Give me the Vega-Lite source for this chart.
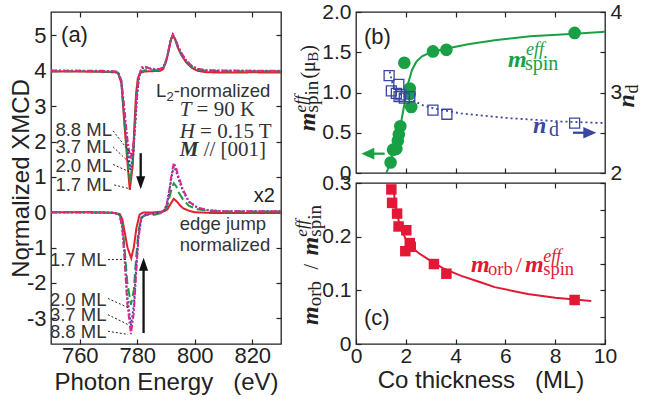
{
"$schema":"https://vega.github.io/schema/vega-lite/v6.json",
"background":"white",
"padding":{"left":8,"top":0,"right":0,"bottom":0},
"spacing":75,
"bounds":"flush",
"config":{
 "view":{"stroke":"#222","strokeWidth":1.3},
 "axis":{"domain":false,"grid":false,"ticks":true,"tickSize":-5,"tickColor":"#222","tickWidth":1.2,"labelFont":"Liberation Sans","labelFontSize":21,"labelColor":"#222","titleFont":"Liberation Sans","titleFontSize":24,"titleFontWeight":"normal","titleColor":"#222","labelFlush":false,"labelOverlap":false},
 "axisX":{"labelPadding":6.5},
 "axisY":{"labelPadding":10}
},
"hconcat":[
{"width":230,"height":332,
 "resolve":{"axis":{"x":"independent","y":"independent"}},
 "layer":[
  {"layer":[
   {"data":{"values":[
{"x":750,"y":3.98,"ml":"1.7","g":"t"},{"x":760,"y":3.98,"ml":"1.7","g":"t"},{"x":768,"y":3.97,"ml":"1.7","g":"t"},{"x":772,"y":3.96,"ml":"1.7","g":"t"},{"x":773.3,"y":3.94,"ml":"1.7","g":"t"},{"x":774.5,"y":3.65,"ml":"1.7","g":"t"},{"x":775.6,"y":2.42,"ml":"1.7","g":"t"},{"x":776.5,"y":1.49,"ml":"1.7","g":"t"},{"x":777.4,"y":0.63,"ml":"1.7","g":"t"},{"x":778.4,"y":1.29,"ml":"1.7","g":"t"},{"x":779,"y":2.42,"ml":"1.7","g":"t"},{"x":779.6,"y":3.37,"ml":"1.7","g":"t"},{"x":780.2,"y":3.79,"ml":"1.7","g":"t"},{"x":781,"y":3.94,"ml":"1.7","g":"t"},{"x":782.5,"y":3.98,"ml":"1.7","g":"t"},{"x":785,"y":3.99,"ml":"1.7","g":"t"},{"x":788,"y":4.0,"ml":"1.7","g":"t"},{"x":789,"y":4.05,"ml":"1.7","g":"t"},{"x":790,"y":4.25,"ml":"1.7","g":"t"},{"x":790.7,"y":4.48,"ml":"1.7","g":"t"},{"x":791.6,"y":4.85,"ml":"1.7","g":"t"},{"x":792.4,"y":5.02,"ml":"1.7","g":"t"},{"x":793.3,"y":4.86,"ml":"1.7","g":"t"},{"x":794.2,"y":4.64,"ml":"1.7","g":"t"},{"x":795.3,"y":4.45,"ml":"1.7","g":"t"},{"x":797,"y":4.24,"ml":"1.7","g":"t"},{"x":799,"y":4.08,"ml":"1.7","g":"t"},{"x":801,"y":4.0,"ml":"1.7","g":"t"},{"x":804,"y":3.96,"ml":"1.7","g":"t"},{"x":810,"y":3.95,"ml":"1.7","g":"t"},{"x":815,"y":3.95,"ml":"1.7","g":"t"},{"x":820,"y":3.96,"ml":"1.7","g":"t"},{"x":825,"y":3.95,"ml":"1.7","g":"t"},{"x":830,"y":3.95,"ml":"1.7","g":"t"},
{"x":750,"y":3.99,"ml":"2.0","g":"t"},{"x":760,"y":3.99,"ml":"2.0","g":"t"},{"x":768,"y":3.98,"ml":"2.0","g":"t"},{"x":772,"y":3.97,"ml":"2.0","g":"t"},{"x":773.3,"y":3.95,"ml":"2.0","g":"t"},{"x":774.5,"y":3.67,"ml":"2.0","g":"t"},{"x":775.6,"y":2.55,"ml":"2.0","g":"t"},{"x":776.5,"y":1.68,"ml":"2.0","g":"t"},{"x":777.5,"y":0.85,"ml":"2.0","g":"t"},{"x":778.5,"y":1.5,"ml":"2.0","g":"t"},{"x":779.1,"y":2.4,"ml":"2.0","g":"t"},{"x":779.7,"y":3.25,"ml":"2.0","g":"t"},{"x":780.3,"y":3.72,"ml":"2.0","g":"t"},{"x":781.1,"y":3.95,"ml":"2.0","g":"t"},{"x":782.5,"y":4.02,"ml":"2.0","g":"t"},{"x":785,"y":4.02,"ml":"2.0","g":"t"},{"x":788,"y":4.02,"ml":"2.0","g":"t"},{"x":789,"y":4.07,"ml":"2.0","g":"t"},{"x":790,"y":4.27,"ml":"2.0","g":"t"},{"x":790.7,"y":4.5,"ml":"2.0","g":"t"},{"x":791.6,"y":4.86,"ml":"2.0","g":"t"},{"x":792.4,"y":5.02,"ml":"2.0","g":"t"},{"x":793.3,"y":4.87,"ml":"2.0","g":"t"},{"x":794.2,"y":4.66,"ml":"2.0","g":"t"},{"x":795.3,"y":4.48,"ml":"2.0","g":"t"},{"x":797,"y":4.27,"ml":"2.0","g":"t"},{"x":799,"y":4.11,"ml":"2.0","g":"t"},{"x":801,"y":4.04,"ml":"2.0","g":"t"},{"x":804,"y":4.0,"ml":"2.0","g":"t"},{"x":810,"y":3.99,"ml":"2.0","g":"t"},{"x":820,"y":3.99,"ml":"2.0","g":"t"},{"x":830,"y":3.99,"ml":"2.0","g":"t"},
{"x":750,"y":4.0,"ml":"3.7","g":"t"},{"x":760,"y":4.0,"ml":"3.7","g":"t"},{"x":768,"y":3.99,"ml":"3.7","g":"t"},{"x":772,"y":3.98,"ml":"3.7","g":"t"},{"x":773.3,"y":3.96,"ml":"3.7","g":"t"},{"x":774.5,"y":3.7,"ml":"3.7","g":"t"},{"x":775.6,"y":2.72,"ml":"3.7","g":"t"},{"x":776.5,"y":1.92,"ml":"3.7","g":"t"},{"x":777.6,"y":1.2,"ml":"3.7","g":"t"},{"x":778.6,"y":1.62,"ml":"3.7","g":"t"},{"x":779.3,"y":2.45,"ml":"3.7","g":"t"},{"x":779.9,"y":3.25,"ml":"3.7","g":"t"},{"x":780.6,"y":3.8,"ml":"3.7","g":"t"},{"x":781.5,"y":4.06,"ml":"3.7","g":"t"},{"x":782.5,"y":4.1,"ml":"3.7","g":"t"},{"x":784,"y":4.07,"ml":"3.7","g":"t"},{"x":786,"y":4.04,"ml":"3.7","g":"t"},{"x":788,"y":4.05,"ml":"3.7","g":"t"},{"x":789,"y":4.09,"ml":"3.7","g":"t"},{"x":790,"y":4.28,"ml":"3.7","g":"t"},{"x":790.7,"y":4.5,"ml":"3.7","g":"t"},{"x":791.6,"y":4.86,"ml":"3.7","g":"t"},{"x":792.4,"y":5.02,"ml":"3.7","g":"t"},{"x":793.3,"y":4.88,"ml":"3.7","g":"t"},{"x":794.2,"y":4.68,"ml":"3.7","g":"t"},{"x":795.3,"y":4.5,"ml":"3.7","g":"t"},{"x":797,"y":4.29,"ml":"3.7","g":"t"},{"x":799,"y":4.13,"ml":"3.7","g":"t"},{"x":801,"y":4.05,"ml":"3.7","g":"t"},{"x":804,"y":4.01,"ml":"3.7","g":"t"},{"x":810,"y":4.0,"ml":"3.7","g":"t"},{"x":820,"y":4.0,"ml":"3.7","g":"t"},{"x":830,"y":3.99,"ml":"3.7","g":"t"},
{"x":750,"y":4.01,"ml":"8.8","g":"t"},{"x":760,"y":4.0,"ml":"8.8","g":"t"},{"x":768,"y":4.0,"ml":"8.8","g":"t"},{"x":772,"y":3.99,"ml":"8.8","g":"t"},{"x":773.3,"y":3.97,"ml":"8.8","g":"t"},{"x":774.5,"y":3.73,"ml":"8.8","g":"t"},{"x":775.6,"y":2.88,"ml":"8.8","g":"t"},{"x":776.5,"y":2.12,"ml":"8.8","g":"t"},{"x":777.6,"y":1.5,"ml":"8.8","g":"t"},{"x":778.6,"y":1.88,"ml":"8.8","g":"t"},{"x":779.3,"y":2.58,"ml":"8.8","g":"t"},{"x":779.9,"y":3.32,"ml":"8.8","g":"t"},{"x":780.6,"y":3.86,"ml":"8.8","g":"t"},{"x":781.5,"y":4.1,"ml":"8.8","g":"t"},{"x":782.5,"y":4.12,"ml":"8.8","g":"t"},{"x":784,"y":4.08,"ml":"8.8","g":"t"},{"x":786,"y":4.05,"ml":"8.8","g":"t"},{"x":788,"y":4.06,"ml":"8.8","g":"t"},{"x":789,"y":4.1,"ml":"8.8","g":"t"},{"x":790,"y":4.29,"ml":"8.8","g":"t"},{"x":790.7,"y":4.5,"ml":"8.8","g":"t"},{"x":791.6,"y":4.86,"ml":"8.8","g":"t"},{"x":792.4,"y":5.02,"ml":"8.8","g":"t"},{"x":793.3,"y":4.89,"ml":"8.8","g":"t"},{"x":794.2,"y":4.7,"ml":"8.8","g":"t"},{"x":795.3,"y":4.52,"ml":"8.8","g":"t"},{"x":797,"y":4.3,"ml":"8.8","g":"t"},{"x":799,"y":4.14,"ml":"8.8","g":"t"},{"x":801,"y":4.06,"ml":"8.8","g":"t"},{"x":804,"y":4.02,"ml":"8.8","g":"t"},{"x":810,"y":4.01,"ml":"8.8","g":"t"},{"x":820,"y":4.0,"ml":"8.8","g":"t"},{"x":830,"y":4.0,"ml":"8.8","g":"t"},
{"x":750,"y":0.0,"ml":"1.7","g":"b"},{"x":760,"y":0.0,"ml":"1.7","g":"b"},{"x":768,"y":-0.01,"ml":"1.7","g":"b"},{"x":772,"y":-0.02,"ml":"1.7","g":"b"},{"x":773.9,"y":-0.05,"ml":"1.7","g":"b"},{"x":774.8,"y":-0.2,"ml":"1.7","g":"b"},{"x":775.6,"y":-0.55,"ml":"1.7","g":"b"},{"x":776.6,"y":-1.0,"ml":"1.7","g":"b"},{"x":777.9,"y":-1.3,"ml":"1.7","g":"b"},{"x":778.8,"y":-1.0,"ml":"1.7","g":"b"},{"x":779.7,"y":-0.45,"ml":"1.7","g":"b"},{"x":780.8,"y":-0.07,"ml":"1.7","g":"b"},{"x":782,"y":-0.01,"ml":"1.7","g":"b"},{"x":785,"y":-0.01,"ml":"1.7","g":"b"},{"x":788,"y":0.01,"ml":"1.7","g":"b"},{"x":789.5,"y":0.03,"ml":"1.7","g":"b"},{"x":790.5,"y":0.08,"ml":"1.7","g":"b"},{"x":791.7,"y":0.25,"ml":"1.7","g":"b"},{"x":792.7,"y":0.38,"ml":"1.7","g":"b"},{"x":793.8,"y":0.3,"ml":"1.7","g":"b"},{"x":795,"y":0.18,"ml":"1.7","g":"b"},{"x":796,"y":0.11,"ml":"1.7","g":"b"},{"x":798,"y":0.04,"ml":"1.7","g":"b"},{"x":800,"y":0.0,"ml":"1.7","g":"b"},{"x":805,"y":-0.02,"ml":"1.7","g":"b"},{"x":815,"y":-0.02,"ml":"1.7","g":"b"},{"x":830,"y":-0.02,"ml":"1.7","g":"b"},
{"x":750,"y":0.0,"ml":"2.0","g":"b"},{"x":760,"y":0.0,"ml":"2.0","g":"b"},{"x":768,"y":-0.01,"ml":"2.0","g":"b"},{"x":772,"y":-0.02,"ml":"2.0","g":"b"},{"x":773.9,"y":-0.07,"ml":"2.0","g":"b"},{"x":774.8,"y":-0.35,"ml":"2.0","g":"b"},{"x":775.6,"y":-1.02,"ml":"2.0","g":"b"},{"x":776.5,"y":-1.96,"ml":"2.0","g":"b"},{"x":777.8,"y":-2.62,"ml":"2.0","g":"b"},{"x":778.8,"y":-2.2,"ml":"2.0","g":"b"},{"x":779.6,"y":-1.3,"ml":"2.0","g":"b"},{"x":780.4,"y":-0.55,"ml":"2.0","g":"b"},{"x":781.4,"y":-0.15,"ml":"2.0","g":"b"},{"x":783,"y":-0.08,"ml":"2.0","g":"b"},{"x":786,"y":-0.07,"ml":"2.0","g":"b"},{"x":788.5,"y":-0.02,"ml":"2.0","g":"b"},{"x":789.5,"y":0.05,"ml":"2.0","g":"b"},{"x":790.3,"y":0.14,"ml":"2.0","g":"b"},{"x":791.1,"y":0.38,"ml":"2.0","g":"b"},{"x":792,"y":0.68,"ml":"2.0","g":"b"},{"x":792.7,"y":0.82,"ml":"2.0","g":"b"},{"x":793.5,"y":0.74,"ml":"2.0","g":"b"},{"x":794.5,"y":0.55,"ml":"2.0","g":"b"},{"x":796,"y":0.35,"ml":"2.0","g":"b"},{"x":798,"y":0.18,"ml":"2.0","g":"b"},{"x":801,"y":0.08,"ml":"2.0","g":"b"},{"x":805,"y":0.03,"ml":"2.0","g":"b"},{"x":810,"y":0.02,"ml":"2.0","g":"b"},{"x":830,"y":0.02,"ml":"2.0","g":"b"},
{"x":750,"y":0.0,"ml":"3.7","g":"b"},{"x":760,"y":0.0,"ml":"3.7","g":"b"},{"x":768,"y":-0.01,"ml":"3.7","g":"b"},{"x":772,"y":-0.02,"ml":"3.7","g":"b"},{"x":773.9,"y":-0.08,"ml":"3.7","g":"b"},{"x":774.8,"y":-0.42,"ml":"3.7","g":"b"},{"x":775.6,"y":-1.25,"ml":"3.7","g":"b"},{"x":776.5,"y":-2.35,"ml":"3.7","g":"b"},{"x":777.8,"y":-3.2,"ml":"3.7","g":"b"},{"x":778.8,"y":-2.65,"ml":"3.7","g":"b"},{"x":779.6,"y":-1.6,"ml":"3.7","g":"b"},{"x":780.4,"y":-0.7,"ml":"3.7","g":"b"},{"x":781.4,"y":-0.17,"ml":"3.7","g":"b"},{"x":783,"y":-0.06,"ml":"3.7","g":"b"},{"x":786,"y":-0.04,"ml":"3.7","g":"b"},{"x":788.5,"y":0.0,"ml":"3.7","g":"b"},{"x":789.5,"y":0.07,"ml":"3.7","g":"b"},{"x":790.3,"y":0.22,"ml":"3.7","g":"b"},{"x":791.1,"y":0.55,"ml":"3.7","g":"b"},{"x":792,"y":1.02,"ml":"3.7","g":"b"},{"x":792.7,"y":1.29,"ml":"3.7","g":"b"},{"x":793.5,"y":1.17,"ml":"3.7","g":"b"},{"x":794.5,"y":0.9,"ml":"3.7","g":"b"},{"x":796,"y":0.58,"ml":"3.7","g":"b"},{"x":798,"y":0.29,"ml":"3.7","g":"b"},{"x":801,"y":0.12,"ml":"3.7","g":"b"},{"x":805,"y":0.05,"ml":"3.7","g":"b"},{"x":810,"y":0.03,"ml":"3.7","g":"b"},{"x":830,"y":0.03,"ml":"3.7","g":"b"},
{"x":750,"y":0.0,"ml":"8.8","g":"b"},{"x":760,"y":0.0,"ml":"8.8","g":"b"},{"x":768,"y":-0.01,"ml":"8.8","g":"b"},{"x":772,"y":-0.02,"ml":"8.8","g":"b"},{"x":773.9,"y":-0.09,"ml":"8.8","g":"b"},{"x":774.8,"y":-0.45,"ml":"8.8","g":"b"},{"x":775.6,"y":-1.35,"ml":"8.8","g":"b"},{"x":776.5,"y":-2.55,"ml":"8.8","g":"b"},{"x":777.8,"y":-3.45,"ml":"8.8","g":"b"},{"x":778.8,"y":-2.85,"ml":"8.8","g":"b"},{"x":779.6,"y":-1.75,"ml":"8.8","g":"b"},{"x":780.4,"y":-0.75,"ml":"8.8","g":"b"},{"x":781.4,"y":-0.17,"ml":"8.8","g":"b"},{"x":783,"y":-0.05,"ml":"8.8","g":"b"},{"x":786,"y":-0.03,"ml":"8.8","g":"b"},{"x":788.5,"y":0.0,"ml":"8.8","g":"b"},{"x":789.5,"y":0.08,"ml":"8.8","g":"b"},{"x":790.3,"y":0.24,"ml":"8.8","g":"b"},{"x":791.1,"y":0.6,"ml":"8.8","g":"b"},{"x":792,"y":1.1,"ml":"8.8","g":"b"},{"x":792.7,"y":1.39,"ml":"8.8","g":"b"},{"x":793.5,"y":1.26,"ml":"8.8","g":"b"},{"x":794.5,"y":0.97,"ml":"8.8","g":"b"},{"x":796,"y":0.62,"ml":"8.8","g":"b"},{"x":798,"y":0.3,"ml":"8.8","g":"b"},{"x":801,"y":0.13,"ml":"8.8","g":"b"},{"x":805,"y":0.05,"ml":"8.8","g":"b"},{"x":810,"y":0.03,"ml":"8.8","g":"b"},{"x":830,"y":0.03,"ml":"8.8","g":"b"}
   ]},
    "mark":{"type":"line","strokeWidth":2},
    "encoding":{
     "x":{"field":"x","type":"quantitative","scale":{"domain":[750,830],"nice":false,"zero":false},"axis":{"orient":"bottom","values":[760,780,800,820],"title":"Photon Energy\u00a0\u00a0\u00a0(eV)","titleY":45,"titleBaseline":"alphabetic","labelFontSize":22}},
     "y":{"field":"y","type":"quantitative","scale":{"domain":[-3.73,5.665],"nice":false,"zero":false},"axis":{"orient":"left","values":[-3,-2,-1,0,1,2,3,4,5],"labelExpr":"'' + datum.value","title":"Normalized XMCD","titleX":-23,"titleBaseline":"alphabetic","labelFontSize":22}},
     "color":{"field":"ml","type":"nominal","scale":{"domain":["1.7","2.0","3.7","8.8"],"range":["#e5202e","#1f9a48","#3a48a6","#d92a8c"]},"legend":null},
     "strokeDash":{"field":"ml","type":"nominal","scale":{"domain":["1.7","2.0","3.7","8.8"],"range":[[1,0],[9,4],[2,2],[6,2,2,2]]},"legend":null},
     "detail":{"field":"g"}
    }},
   {"data":{"values":[
     {"x":771.6,"y":2.3,"x2":777.9,"y2":1.65},{"x":771.6,"y":1.85,"x2":777.5,"y2":1.38},{"x":771.6,"y":1.35,"x2":777.1,"y2":1.15},{"x":772.0,"y":0.77,"x2":777.6,"y2":0.66},
     {"x":769.8,"y":-1.34,"x2":776.8,"y2":-1.34},{"x":769.8,"y":-2.44,"x2":776.8,"y2":-2.7},{"x":769.8,"y":-2.9,"x2":776.8,"y2":-3.18},{"x":769.8,"y":-3.37,"x2":776.8,"y2":-3.46}]},
    "mark":{"type":"rule","strokeDash":[2,2],"strokeWidth":1,"color":"#222"},
    "encoding":{"x":{"field":"x","type":"quantitative"},"y":{"field":"y","type":"quantitative"},"x2":{"field":"x2"},"y2":{"field":"y2"}}},
   {"data":{"values":[
     {"x":771.2,"y":2.33,"t":"8.8 ML"},{"x":771.2,"y":1.84,"t":"3.7 ML"},{"x":771.2,"y":1.32,"t":"2.0 ML"},{"x":771.2,"y":0.78,"t":"1.7 ML"},
     {"x":769.3,"y":-1.35,"t":"1.7 ML"},{"x":769.3,"y":-2.48,"t":"2.0 ML"},{"x":769.3,"y":-2.9,"t":"3.7 ML"},{"x":769.3,"y":-3.38,"t":"8.8 ML"}]},
    "mark":{"type":"text","font":"Liberation Sans","fontSize":18.5,"align":"right","baseline":"middle","color":"#333"},
    "encoding":{"x":{"field":"x","type":"quantitative"},"y":{"field":"y","type":"quantitative"},"text":{"field":"t"}}},
   {"data":{"values":[{"x":781.2,"y":1.67,"y2":0.832},{"x":782.2,"y":-3.42,"y2":-1.471}]},
    "mark":{"type":"rule","strokeWidth":2.3,"color":"#111"},
    "encoding":{"x":{"field":"x","type":"quantitative"},"y":{"field":"y","type":"quantitative"},"y2":{"field":"y2"}}},
   {"data":{"values":[{"x":781.2,"y":0.832}]},
    "mark":{"type":"point","shape":"M-0.7,-1L0.7,-1L0,1Z","filled":true,"size":169,"opacity":1,"color":"#111"},
    "encoding":{"x":{"field":"x","type":"quantitative"},"y":{"field":"y","type":"quantitative"}}},
   {"data":{"values":[{"x":782.2,"y":-1.471}]},
    "mark":{"type":"point","shape":"M-0.7,1L0.7,1L0,-1Z","filled":true,"size":169,"opacity":1,"color":"#111"},
    "encoding":{"x":{"field":"x","type":"quantitative"},"y":{"field":"y","type":"quantitative"}}},
   {"data":{"values":[{"x":786.5,"y":3.26,"t":"L"},{"x":792.68,"y":3.26,"t":"-normalized"},{"x":794.77,"y":-0.5,"t":"edge jump"},{"x":794.77,"y":-1.1,"t":"normalized"}]},
    "mark":{"type":"text","font":"Liberation Sans","fontSize":18.5,"align":"left","baseline":"alphabetic","color":"#333"},
    "encoding":{"x":{"field":"x","type":"quantitative"},"y":{"field":"y","type":"quantitative"},"text":{"field":"t"}}},
   {"data":{"values":[{"x":790.17,"y":3.15,"t":"2"}]},
    "mark":{"type":"text","font":"Liberation Sans","fontSize":13,"align":"left","baseline":"alphabetic","color":"#333"},
    "encoding":{"x":{"field":"x","type":"quantitative"},"y":{"field":"y","type":"quantitative"},"text":{"field":"t"}}},
   {"data":{"values":[{"x":827.9,"y":0.29,"t":"x2"}]},
    "mark":{"type":"text","font":"Liberation Sans","fontSize":20,"align":"right","baseline":"alphabetic","color":"#222"},
    "encoding":{"x":{"field":"x","type":"quantitative"},"y":{"field":"y","type":"quantitative"},"text":{"field":"t"}}},
   {"data":{"values":[{"x":794.77,"y":2.72,"t":"T"},{"x":794.77,"y":2.11,"t":"H"}]},
    "mark":{"type":"text","font":"Liberation Serif","fontSize":21,"fontStyle":"italic","align":"left","baseline":"alphabetic","color":"#333"},
    "encoding":{"x":{"field":"x","type":"quantitative"},"y":{"field":"y","type":"quantitative"},"text":{"field":"t"}}},
   {"data":{"values":[{"x":794.77,"y":1.59,"t":"M"}]},
    "mark":{"type":"text","font":"Liberation Serif","fontSize":21,"fontStyle":"italic","fontWeight":"bold","align":"left","baseline":"alphabetic","color":"#333"},
    "encoding":{"x":{"field":"x","type":"quantitative"},"y":{"field":"y","type":"quantitative"},"text":{"field":"t"}}},
   {"data":{"values":[{"x":800.64,"y":2.72,"t":"= 90 K"},{"x":801.86,"y":2.11,"t":"= 0.15 T"},{"x":803.1,"y":1.59,"t":"// [001]"}]},
    "mark":{"type":"text","font":"Liberation Serif","fontSize":21,"align":"left","baseline":"alphabetic","color":"#333"},
    "encoding":{"x":{"field":"x","type":"quantitative"},"y":{"field":"y","type":"quantitative"},"text":{"field":"t"}}}
  ]},
  {"data":{"values":[{"x":753.5,"y":4.82,"t":"(a)"}]},
   "mark":{"type":"text","font":"Liberation Sans","fontSize":22,"align":"left","baseline":"alphabetic","color":"#222"},
   "encoding":{
    "x":{"field":"x","type":"quantitative","axis":{"orient":"top","values":[760,780,800,820],"labels":false,"title":null}},
    "y":{"field":"y","type":"quantitative","axis":{"orient":"right","values":[-3,-2,-1,0,1,2,3,4,5],"labels":false,"title":null}},
    "text":{"field":"t"}}}
 ]},
{"vconcat":[
 {"width":249,"height":161,
  "resolve":{"scale":{"y":"independent"},"axis":{"x":"independent"}},
  "layer":[
   {"layer":[
    {"data":{"values":[{"x":1.22,"y":0.0},{"x":1.39,"y":0.13},{"x":1.5,"y":0.27},{"x":1.65,"y":0.42},{"x":1.78,"y":0.58},{"x":1.9,"y":0.78},{"x":2.0,"y":0.95},{"x":2.1,"y":1.12},{"x":2.25,"y":1.28},{"x":2.42,"y":1.38},{"x":2.65,"y":1.45},{"x":3.0,"y":1.5},{"x":3.56,"y":1.54},{"x":4.5,"y":1.6},{"x":5.57,"y":1.65},{"x":7.0,"y":1.7},{"x":8.78,"y":1.73},{"x":10.0,"y":1.755}]},
     "mark":{"type":"line","color":"#19a045","strokeWidth":2},
     "encoding":{
      "x":{"field":"x","type":"quantitative","scale":{"domain":[0,10],"nice":false},"axis":{"orient":"bottom","values":[2,4,6,8],"labels":false,"title":null}},
      "y":{"field":"y","type":"quantitative","scale":{"domain":[0,2],"nice":false},"axis":{"orient":"left","values":[0,0.5,1,1.5,2],"labelExpr":"datum.value == 0 ? '0' : format(datum.value, '.1f')","title":null}}}},
    {"data":{"values":[{"x":1.39,"y":0.13},{"x":1.49,"y":0.29},{"x":1.62,"y":0.3},{"x":1.68,"y":0.4},{"x":1.72,"y":0.48},{"x":1.78,"y":0.58},{"x":1.94,"y":1.37},{"x":2.16,"y":1.05},{"x":2.16,"y":0.98},{"x":2.22,"y":0.82},{"x":3.09,"y":1.51},{"x":3.63,"y":1.53},{"x":8.78,"y":1.74}]},
     "mark":{"type":"point","shape":"circle","filled":true,"size":160,"opacity":1,"color":"#19a045"},
     "encoding":{"x":{"field":"x","type":"quantitative"},"y":{"field":"y","type":"quantitative"}}},
    {"data":{"values":[{"x":1.15,"x2":0.474,"y":0.24}]},
     "mark":{"type":"rule","strokeWidth":2.3,"color":"#19a045"},
     "encoding":{"x":{"field":"x","type":"quantitative"},"x2":{"field":"x2"},"y":{"field":"y","type":"quantitative"}}},
    {"data":{"values":[{"x":0.474,"y":0.24}]},
     "mark":{"type":"point","shape":"M1,-0.9L1,0.9L-1,0Z","filled":true,"size":169,"opacity":1,"color":"#19a045"},
     "encoding":{"x":{"field":"x","type":"quantitative"},"y":{"field":"y","type":"quantitative"}}},
    {"data":{"values":[{"x":0.321,"y":1.605,"t":"(b)"}]},
     "mark":{"type":"text","font":"Liberation Sans","fontSize":22,"align":"left","baseline":"alphabetic","color":"#222"},
     "encoding":{"x":{"field":"x","type":"quantitative"},"y":{"field":"y","type":"quantitative"},"text":{"field":"t"}}},
    {"data":{"values":[{"x":6.104,"y":1.321,"t":"m"}]},
     "mark":{"type":"text","font":"Liberation Serif","fontSize":24,"fontStyle":"italic","fontWeight":"bold","align":"left","baseline":"alphabetic","color":"#19a045"},
     "encoding":{"x":{"field":"x","type":"quantitative"},"y":{"field":"y","type":"quantitative"},"text":{"field":"t"}}},
    {"data":{"values":[{"x":6.827,"y":1.469,"t":"eff"}]},
     "mark":{"type":"text","font":"Liberation Serif","fontSize":18,"fontStyle":"italic","align":"left","baseline":"alphabetic","color":"#19a045"},
     "encoding":{"x":{"field":"x","type":"quantitative"},"y":{"field":"y","type":"quantitative"},"text":{"field":"t"}}},
    {"data":{"values":[{"x":6.787,"y":1.284,"t":"spin"}]},
     "mark":{"type":"text","font":"Liberation Serif","fontSize":20,"align":"left","baseline":"alphabetic","color":"#19a045"},
     "encoding":{"x":{"field":"x","type":"quantitative"},"y":{"field":"y","type":"quantitative"},"text":{"field":"t"}}},
    {"data":{"values":[{"x":-1.647,"y":0.519,"t":"m"}]},
     "mark":{"type":"text","font":"Liberation Serif","fontSize":24,"fontStyle":"italic","fontWeight":"bold","angle":270,"align":"left","baseline":"alphabetic","color":"#222"},
     "encoding":{"x":{"field":"x","type":"quantitative"},"y":{"field":"y","type":"quantitative"},"text":{"field":"t"}}},
    {"data":{"values":[{"x":-1.526,"y":0.753,"t":"spin"}]},
     "mark":{"type":"text","font":"Liberation Serif","fontSize":19,"angle":270,"align":"left","baseline":"alphabetic","color":"#222"},
     "encoding":{"x":{"field":"x","type":"quantitative"},"y":{"field":"y","type":"quantitative"},"text":{"field":"t"}}},
    {"data":{"values":[{"x":-2.008,"y":0.753,"t":"eff"}]},
     "mark":{"type":"text","font":"Liberation Serif","fontSize":17,"fontStyle":"italic","angle":270,"align":"left","baseline":"alphabetic","color":"#222"},
     "encoding":{"x":{"field":"x","type":"quantitative"},"y":{"field":"y","type":"quantitative"},"text":{"field":"t"}}},
    {"data":{"values":[{"x":-1.647,"y":1.173,"t":"(μ"},{"x":-1.647,"y":1.506,"t":")"}]},
     "mark":{"type":"text","font":"Liberation Serif","fontSize":20,"angle":270,"align":"left","baseline":"alphabetic","color":"#222"},
     "encoding":{"x":{"field":"x","type":"quantitative"},"y":{"field":"y","type":"quantitative"},"text":{"field":"t"}}},
    {"data":{"values":[{"x":-1.526,"y":1.383,"t":"B"}]},
     "mark":{"type":"text","font":"Liberation Serif","fontSize":15,"angle":270,"align":"left","baseline":"alphabetic","color":"#222"},
     "encoding":{"x":{"field":"x","type":"quantitative"},"y":{"field":"y","type":"quantitative"},"text":{"field":"t"}}}
   ]},
   {"layer":[
    {"data":{"values":[{"x":1.35,"y":3.26},{"x":1.49,"y":3.08},{"x":1.7,"y":2.99},{"x":2.0,"y":2.94},{"x":2.22,"y":2.91},{"x":2.7,"y":2.84},{"x":3.15,"y":2.8},{"x":4.22,"y":2.74},{"x":5.5,"y":2.7},{"x":6.22,"y":2.68},{"x":8.23,"y":2.64},{"x":9.97,"y":2.62}]},
     "mark":{"type":"line","color":"#3b46a3","strokeWidth":1.8,"strokeDash":[2,3]},
     "encoding":{
      "x":{"field":"x","type":"quantitative","axis":{"orient":"top","values":[2,4,6,8],"labels":false,"title":null}},
      "y":{"field":"y","type":"quantitative","scale":{"domain":[2,4],"nice":false},"axis":{"orient":"right","values":[2,2.5,3,3.5,4],"labelExpr":"datum.value % 1 == 0 ? '' + datum.value : ''","title":null}}}},
    {"data":{"values":[{"x":1.33,"y":3.21},{"x":1.42,"y":3.02},{"x":1.62,"y":2.99},{"x":1.72,"y":3.1},{"x":1.73,"y":2.95},{"x":1.8,"y":2.97},{"x":1.94,"y":2.93},{"x":2.16,"y":2.95},{"x":3.09,"y":2.78},{"x":3.65,"y":2.73},{"x":8.78,"y":2.62}]},
     "mark":{"type":"point","shape":"square","filled":false,"size":100,"strokeWidth":1.3,"opacity":1,"color":"#3b46a3"},
     "encoding":{"x":{"field":"x","type":"quantitative"},"y":{"field":"y","type":"quantitative"}}},
    {"data":{"values":[{"x":8.715,"x2":9.39,"y":2.5}]},
     "mark":{"type":"rule","strokeWidth":2.3,"color":"#3b46a3"},
     "encoding":{"x":{"field":"x","type":"quantitative"},"x2":{"field":"x2"},"y":{"field":"y","type":"quantitative"}}},
    {"data":{"values":[{"x":9.39,"y":2.5}]},
     "mark":{"type":"point","shape":"M-1,-0.9L-1,0.9L1,0Z","filled":true,"size":169,"opacity":1,"color":"#3b46a3"},
     "encoding":{"x":{"field":"x","type":"quantitative"},"y":{"field":"y","type":"quantitative"}}},
    {"data":{"values":[{"x":7.108,"y":2.494,"t":"n"}]},
     "mark":{"type":"text","font":"Liberation Serif","fontSize":24,"fontStyle":"italic","fontWeight":"bold","align":"left","baseline":"alphabetic","color":"#3b46a3"},
     "encoding":{"x":{"field":"x","type":"quantitative"},"y":{"field":"y","type":"quantitative"},"text":{"field":"t"}}},
    {"data":{"values":[{"x":7.751,"y":2.457,"t":"d"}]},
     "mark":{"type":"text","font":"Liberation Serif","fontSize":20,"align":"left","baseline":"alphabetic","color":"#3b46a3"},
     "encoding":{"x":{"field":"x","type":"quantitative"},"y":{"field":"y","type":"quantitative"},"text":{"field":"t"}}},
    {"data":{"values":[{"x":11.165,"y":2.815,"t":"n"}]},
     "mark":{"type":"text","font":"Liberation Serif","fontSize":24,"fontStyle":"italic","fontWeight":"bold","angle":270,"align":"left","baseline":"alphabetic","color":"#222"},
     "encoding":{"x":{"field":"x","type":"quantitative"},"y":{"field":"y","type":"quantitative"},"text":{"field":"t"}}},
    {"data":{"values":[{"x":11.325,"y":2.988,"t":"d"}]},
     "mark":{"type":"text","font":"Liberation Serif","fontSize":18,"angle":270,"align":"left","baseline":"alphabetic","color":"#222"},
     "encoding":{"x":{"field":"x","type":"quantitative"},"y":{"field":"y","type":"quantitative"},"text":{"field":"t"}}}
   ]}
  ]},
 {"width":249,"height":161,
  "resolve":{"axis":{"x":"independent","y":"independent"}},
  "layer":[
   {"layer":[
    {"data":{"values":[{"x":1.48,"y":0.295},{"x":1.6,"y":0.255},{"x":1.75,"y":0.222},{"x":2.0,"y":0.195},{"x":2.22,"y":0.181},{"x":2.5,"y":0.17},{"x":2.89,"y":0.158},{"x":3.5,"y":0.141},{"x":4.23,"y":0.127},{"x":5.0,"y":0.115},{"x":5.57,"y":0.106},{"x":6.9,"y":0.093},{"x":8.0,"y":0.086},{"x":8.78,"y":0.083},{"x":9.45,"y":0.08}]},
     "mark":{"type":"line","color":"#e21836","strokeWidth":2},
     "encoding":{
      "x":{"field":"x","type":"quantitative","scale":{"domain":[0,10],"nice":false},"axis":{"orient":"bottom","values":[0,2,4,6,8,10],"title":"Co thickness\u00a0\u00a0\u00a0(ML)","titleY":43,"titleBaseline":"alphabetic"}},
      "y":{"field":"y","type":"quantitative","scale":{"domain":[0,0.3],"nice":false},"axis":{"orient":"left","values":[0,0.05,0.1,0.15,0.2,0.25,0.3],"labelExpr":"datum.value == 0 ? '0' : (abs(datum.value*10 - round(datum.value*10)) < 0.001 ? format(datum.value, '.1f') : '')","title":null}}}},
    {"data":{"values":[{"x":0.321,"y":0.0352,"t":"(c)"}]},
     "mark":{"type":"text","font":"Liberation Sans","fontSize":22,"align":"left","baseline":"alphabetic","color":"#222"},
     "encoding":{"x":{"field":"x","type":"quantitative"},"y":{"field":"y","type":"quantitative"},"text":{"field":"t"}}},
    {"data":{"values":[{"x":4.618,"y":0.1333,"t":"m"},{"x":6.787,"y":0.1333,"t":"m"}]},
     "mark":{"type":"text","font":"Liberation Serif","fontSize":24,"fontStyle":"italic","fontWeight":"bold","align":"left","baseline":"alphabetic","color":"#e21836"},
     "encoding":{"x":{"field":"x","type":"quantitative"},"y":{"field":"y","type":"quantitative"},"text":{"field":"t"}}},
    {"data":{"values":[{"x":5.301,"y":0.1278,"t":"orb"},{"x":7.52,"y":0.1278,"t":"spin"}]},
     "mark":{"type":"text","font":"Liberation Serif","fontSize":18.5,"align":"left","baseline":"alphabetic","color":"#e21836"},
     "encoding":{"x":{"field":"x","type":"quantitative"},"y":{"field":"y","type":"quantitative"},"text":{"field":"t"}}},
    {"data":{"values":[{"x":6.42,"y":0.1333,"t":"/"}]},
     "mark":{"type":"text","font":"Liberation Serif","fontSize":22,"align":"left","baseline":"alphabetic","color":"#e21836"},
     "encoding":{"x":{"field":"x","type":"quantitative"},"y":{"field":"y","type":"quantitative"},"text":{"field":"t"}}},
    {"data":{"values":[{"x":7.52,"y":0.1519,"t":"eff"}]},
     "mark":{"type":"text","font":"Liberation Serif","fontSize":18,"fontStyle":"italic","align":"left","baseline":"alphabetic","color":"#e21836"},
     "encoding":{"x":{"field":"x","type":"quantitative"},"y":{"field":"y","type":"quantitative"},"text":{"field":"t"}}},
    {"data":{"values":[{"x":-1.526,"y":0.0352,"t":"m"},{"x":-1.526,"y":0.1648,"t":"m"}]},
     "mark":{"type":"text","font":"Liberation Serif","fontSize":24,"fontStyle":"italic","fontWeight":"bold","angle":270,"align":"left","baseline":"alphabetic","color":"#222"},
     "encoding":{"x":{"field":"x","type":"quantitative"},"y":{"field":"y","type":"quantitative"},"text":{"field":"t"}}},
    {"data":{"values":[{"x":-1.406,"y":0.0704,"t":"orb"},{"x":-1.406,"y":0.2,"t":"spin"}]},
     "mark":{"type":"text","font":"Liberation Serif","fontSize":19,"angle":270,"align":"left","baseline":"alphabetic","color":"#222"},
     "encoding":{"x":{"field":"x","type":"quantitative"},"y":{"field":"y","type":"quantitative"},"text":{"field":"t"}}},
    {"data":{"values":[{"x":-1.526,"y":0.1389,"t":"/"}]},
     "mark":{"type":"text","font":"Liberation Serif","fontSize":20,"angle":270,"align":"left","baseline":"alphabetic","color":"#222"},
     "encoding":{"x":{"field":"x","type":"quantitative"},"y":{"field":"y","type":"quantitative"},"text":{"field":"t"}}},
    {"data":{"values":[{"x":-1.968,"y":0.2,"t":"eff"}]},
     "mark":{"type":"text","font":"Liberation Serif","fontSize":17,"fontStyle":"italic","angle":270,"align":"left","baseline":"alphabetic","color":"#222"},
     "encoding":{"x":{"field":"x","type":"quantitative"},"y":{"field":"y","type":"quantitative"},"text":{"field":"t"}}}
   ]},
   {"data":{"values":[{"x":1.42,"y":0.288},{"x":1.45,"y":0.263},{"x":1.65,"y":0.243},{"x":1.71,"y":0.219},{"x":2.02,"y":0.212},{"x":2.16,"y":0.188},{"x":2.2,"y":0.181},{"x":1.98,"y":0.173},{"x":3.13,"y":0.149},{"x":3.63,"y":0.131},{"x":8.78,"y":0.082}]},
    "mark":{"type":"point","shape":"square","filled":true,"size":110,"opacity":1,"color":"#e21836"},
    "encoding":{
     "x":{"field":"x","type":"quantitative","axis":{"orient":"top","values":[2,4,6,8],"labels":false,"title":null}},
     "y":{"field":"y","type":"quantitative","axis":{"orient":"right","values":[0,0.05,0.1,0.15,0.2,0.25,0.3],"labels":false,"title":null}}}}
  ]}
 ],"spacing":10,"bounds":"flush"}
]
}
